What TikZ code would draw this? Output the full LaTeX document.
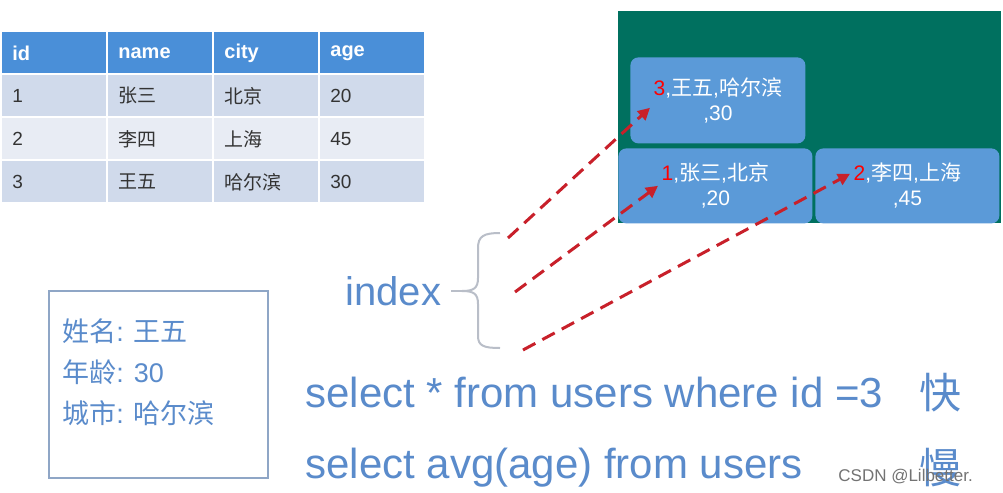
\documentclass[tikz,border=0pt]{standalone}
\usepackage{fontspec}
\setmainfont{Liberation Sans}
\newfontfamily\cjk{Noto Sans CJK SC}
\usetikzlibrary{positioning,calc,arrows.meta}

\definecolor{headblue}{HTML}{4A8FD8}
\definecolor{rowdark}{HTML}{D0DAEB}
\definecolor{rowlight}{HTML}{E8ECF4}
\definecolor{panelgreen}{HTML}{00705F}
\definecolor{boxblue}{HTML}{5B9AD8}
\definecolor{textblue}{HTML}{5A8BCB}
\definecolor{bracegray}{HTML}{B9BEC8}
\definecolor{arrowred}{HTML}{C8202A}
\definecolor{infoframe}{HTML}{8FA6C6}

\tikzset{
  hcell/.style={anchor=north west, fill=headblue, text=white, font=\bfseries\fontsize{10}{12}\selectfont,
    minimum height=20.5pt, text width=42pt, inner xsep=5pt, inner ysep=0pt, align=left},
  cell/.style={anchor=north west, text=black!80, font=\fontsize{9.5}{11}\selectfont,
    minimum height=20.5pt, text width=42pt, inner xsep=5pt, inner ysep=0pt, align=left},
  recbox/.style={anchor=north west, fill=boxblue, rounded corners=4pt, text=white,
    font=\fontsize{10.5}{12.5}\selectfont, align=center, inner sep=0pt},
  arr/.style={draw=arrowred, line width=1.5pt, dash pattern=on 7pt off 4pt, -{Triangle[length=6pt,width=6pt]}},
  bracec/.style={draw=bracegray, line width=1pt},
  bluetext/.style={text=textblue, inner sep=0pt}
}

\begin{document}
\begin{tikzpicture}[x=0.5pt, y=-0.5pt]
  \fill[white] (0,0) rectangle (1003,493);
  \useasboundingbox (0,0) rectangle (1003,493);

  % Table
  \foreach \x/\h in {2/id,108/name,214/city,320/age}
    \node[hcell] (h-\h) at (\x,32) {\h};
  \foreach \id/\name/\city/\age/\rc [count=\r] in {1/张三/北京/20/rowdark, 2/李四/上海/45/rowlight, 3/王五/哈尔滨/30/rowdark} {
    \node[cell, fill=\rc] (id\r) at (2,32+43*\r) {\id};
    \node[cell, fill=\rc] (name\r) at (108,32+43*\r) {\cjk\name};
    \node[cell, fill=\rc] (city\r) at (214,32+43*\r) {\cjk\city};
    \node[cell, fill=\rc] (age\r) at (320,32+43*\r) {\age};
  }

  % Index pages
  \node[anchor=north west, fill=panelgreen, minimum width=191.5pt, minimum height=106pt, inner sep=0pt] (panel) at (618,11) {};
  \node[recbox, minimum width=87.5pt, minimum height=43pt] (box3) at (630,57)
    {{\color{red}3},{\cjk 王五},{\cjk 哈尔滨}\\,30};
  \node[recbox, minimum width=97pt, minimum height=37.5pt] (box1) at (618,148)
    {{\color{red}1},{\cjk 张三},{\cjk 北京}\\,20};
  \node[recbox, minimum width=92pt, minimum height=37.5pt] (box2) at (815,148)
    {{\color{red}2},{\cjk 李四},{\cjk 上海}\\,45};

  % Index brace
  \node[bluetext, anchor=west, font=\fontsize{20}{24}\selectfont] (index) at (345,291) {index};
  \coordinate (tip) at (462,291);
  \draw[bracec] (500,233) .. controls (484,233) and (478,236) .. (478,248) -- (478,278)
    .. controls (478,288) and (474,291) .. (tip)
    .. controls (474,291) and (478,294) .. (478,304) -- (478,336)
    .. controls (478,346) and (484,348) .. (500,348);
  \draw[bracec] ([xshift=5pt]index.east) -- (tip);

  \coordinate (s1) at (508,238);
  \coordinate (s2) at (515,292);
  \coordinate (s3) at (523,350);
  \draw[arr] (s1) -- ($(box3.south west)+(20,-36)$);
  \draw[arr] (s2) -- ($(box1.south west)+(40,-38)$);
  \draw[arr] (s3) -- ($(box2.south west)+(35,-50)$);

  % Record
  \node[draw=infoframe, line width=1pt, anchor=north west, minimum width=109.5pt, minimum height=93.5pt] (info) at (48,290) {};
  \node[anchor=west, inner sep=0pt, align=left, text=textblue, font=\fontsize{13.5}{20.5}\selectfont] (infotxt) at (62,372)
    {{\cjk 姓名}: {\cjk 王五}\\{\cjk 年龄}: 30\\{\cjk 城市}: {\cjk 哈尔滨}};

  % Queries
  \node[bluetext, anchor=west, font=\fontsize{21}{25}\selectfont] (q1) at (305,392) {select * from users where id =3};
  \node[bluetext, anchor=west, font=\fontsize{21}{25}\selectfont] (q2) at (305,468) {select avg(age) from users};
  \node[bluetext, font=\cjk\fontsize{21}{25}\selectfont] (fast) at (940,393) {快};
  \node[bluetext, font=\cjk\fontsize{21}{25}\selectfont] (slow) at (940,468) {慢};

  \node[anchor=west, inner sep=0pt, text=black!55, font=\fontsize{8.5}{10}\selectfont] (mark) at (838,477) {CSDN @Lilbetter.};
\end{tikzpicture}
\end{document}
